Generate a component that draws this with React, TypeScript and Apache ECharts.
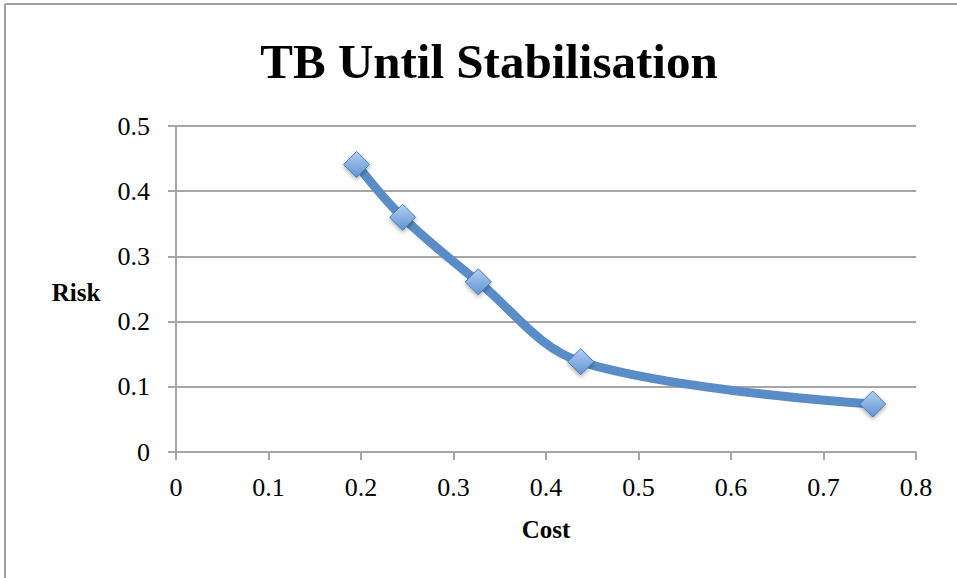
import React, { useEffect, useRef } from "react";
import * as echarts from "echarts";

const titleText = "TB Until Stabilisation";
const xAxisName = "Cost";
const yAxisName = "Risk";
const costValues = [0.1953, 0.245, 0.3268, 0.4375, 0.7532];
const riskValues = [0.441, 0.36, 0.261, 0.1385, 0.0736];

export default function App() {
  const ref = useRef<HTMLDivElement>(null);
  useEffect(() => {
    if (!ref.current) return;
    const chart = echarts.init(ref.current, null, { renderer: "svg" });
    const serif = "'Liberation Serif', 'DejaVu Serif', serif";
    chart.setOption({
      animation: false,
      backgroundColor: "#ffffff",
      grid: { left: 176, right: 41, top: 126, bottom: 126 },
      title: {
        text: titleText,
        left: 484,
        textAlign: "center",
        top: 32,
        textStyle: { fontFamily: serif, fontWeight: "bold", fontSize: 49, color: "#000" },
      },
      xAxis: {
        type: "value",
        min: 0,
        max: 0.8,
        interval: 0.1,
        axisLine: { show: true, lineStyle: { color: "#a6a6a6", width: 2 } },
        axisTick: { show: true, length: 8, lineStyle: { color: "#a6a6a6", width: 2 } },
        splitLine: { show: false },
        axisLabel: { fontFamily: serif, fontSize: 26, color: "#000", margin: 22 },
      },
      yAxis: {
        type: "value",
        min: 0,
        max: 0.5,
        interval: 0.1,
        axisLine: { show: true, lineStyle: { color: "#a6a6a6", width: 2 } },
        axisTick: { show: true, length: 8, lineStyle: { color: "#a6a6a6", width: 2 } },
        splitLine: { show: true, lineStyle: { color: "#a6a6a6", width: 2 } },
        axisLabel: { fontFamily: serif, fontSize: 26, color: "#000", margin: 26 },
      },
      graphic: [
        { type: "line", shape: { x1: 5, y1: 4, x2: 957, y2: 4 }, style: { stroke: "#a0a0a0", lineWidth: 2 } },
        { type: "line", shape: { x1: 5, y1: 4, x2: 5, y2: 578 }, style: { stroke: "#a0a0a0", lineWidth: 2 } },
        {
          type: "text",
          x: 76,
          y: 292,
          style: { text: yAxisName, fontFamily: serif, fontWeight: "bold", fontSize: 25, fill: "#000", align: "center", verticalAlign: "middle" },
        },
        {
          type: "text",
          x: 546,
          y: 529,
          style: { text: xAxisName, fontFamily: serif, fontWeight: "bold", fontSize: 25, fill: "#000", align: "center", verticalAlign: "middle" },
        },
      ],
      series: [
        {
          type: "line",
          data: costValues.map((c, i) => [c, riskValues[i]]),
          smooth: 0.35,
          symbol: "diamond",
          symbolSize: 26,
          lineStyle: { color: "#5a8dc8", width: 9 },
          itemStyle: {
            color: new echarts.graphic.LinearGradient(0, 0, 0, 1, [
              { offset: 0, color: "#b3d0f2" },
              { offset: 1, color: "#5f93d0" },
            ]),
            borderColor: "#4a7dbb",
            borderWidth: 1,
            shadowBlur: 4,
            shadowOffsetY: 2,
            shadowColor: "rgba(0,0,0,0.35)",
          },
        },
      ],
    });
    return () => chart.dispose();
  }, []);
  return <div ref={ref} style={{ position: "fixed", left: 0, top: 0, width: 957, height: 578 }} />;
}
